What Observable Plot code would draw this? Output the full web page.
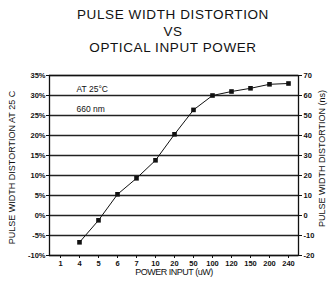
<!DOCTYPE html>
<html>
<head>
<meta charset="utf-8">
<script src="https://cdn.jsdelivr.net/npm/d3@7"></script>
<script src="https://cdn.jsdelivr.net/npm/@observablehq/plot@0.6"></script>
<style>
  html, body { margin: 0; padding: 0; background: #fff; }
  #title { width: 328px; height: 60px; box-sizing: border-box; padding-top: 7px; padding-left: 18px;
    font-family: "Liberation Sans", Arial, sans-serif; font-size: 13.5px; letter-spacing: 0.6px;
    line-height: 16.5px; text-align: center; color: #111; }
  #chart svg { display: block; }
</style>
</head>
<body>
<div id="title">PULSE WIDTH DISTORTION<br>VS<br>OPTICAL INPUT POWER</div>
<div id="chart"></div>
<script>
const powerLabels = ["1", "4", "5", "6", "7", "10", "20", "50", "100", "120", "150", "200", "240"];
const pointPower = ["4", "5", "6", "7", "10", "20", "50", "100", "120", "150", "200", "240"];
const distortionPct = [-6.7, -1.2, 5.3, 9.3, 13.8, 20.3, 26.4, 30.0, 31.0, 31.8, 32.8, 33.0];
const pctTicks = [-10, -5, 0, 5, 10, 15, 20, 25, 30, 35];
const nsTicks = [-20, -10, 0, 10, 20, 30, 40, 50, 60, 70];
const notes = ["AT 25°C", "660 nm"];

const data = pointPower.map((p, i) => ({power: p, pct: distortionPct[i]}));
const nsAsPct = nsTicks.map(v => v / 2);

const font = "Liberation Sans, Arial, sans-serif";

const chart = Plot.plot({
  width: 328,
  height: 221,
  marginTop: 15,
  marginBottom: 26,
  marginLeft: 49,
  marginRight: 30,
  style: {fontFamily: font, fontSize: "7.5px", color: "#111", background: "#fff", overflow: "visible"},
  x: {type: "point", domain: powerLabels, padding: 0.5},
  y: {domain: [-10, 35]},
  marks: [
    Plot.ruleY(pctTicks, {stroke: "#222", strokeWidth: 1.3}),
    Plot.frame({stroke: "#111", strokeWidth: 1.3}),
    Plot.axisY(pctTicks, {anchor: "left", tickSize: 3, tickPadding: 1, tickFormat: d => d + "%", fontWeight: "bold", label: null}),
    Plot.axisY(nsAsPct, {anchor: "right", tickSize: 3, tickPadding: 2, tickFormat: d => String(d * 2), fontWeight: "bold", label: null}),
    Plot.axisX({tickSize: 3, tickPadding: 2, fontWeight: "bold", label: null}),
    Plot.line(data, {x: "power", y: "pct", stroke: "#111", strokeWidth: 1}),
    Plot.dot(data, {x: "power", y: "pct", symbol: "square", fill: "#111", r: 2.6}),
    Plot.text([notes[0]], {frameAnchor: "top-left", dx: 27, dy: 10.7, textAnchor: "start", fontSize: 8.5}),
    Plot.text([notes[1]], {frameAnchor: "top-left", dx: 27, dy: 30.7, textAnchor: "start", fontSize: 8.5}),
    Plot.text(["POWER INPUT (uW)"], {frameAnchor: "bottom", dy: 19.5, fontSize: 9, textAnchor: "middle"}),
    Plot.text(["PULSE WIDTH DISTORTION AT 25 C"], {frameAnchor: "left", dx: -37, dy: 2, rotate: -90, fontSize: 9, textAnchor: "middle"}),
    Plot.text(["PULSE WIDTH DISTORTION (ns)"], {frameAnchor: "right", dx: 24, dy: -7, rotate: -90, fontSize: 9, textAnchor: "middle"})
  ]
});
d3.select(chart).selectAll("text")
  .filter(function () { return this.textContent === "POWER INPUT (uW)"; })
  .style("letter-spacing", "-0.5px");
document.getElementById("chart").appendChild(chart);
</script>
</body>
</html>
